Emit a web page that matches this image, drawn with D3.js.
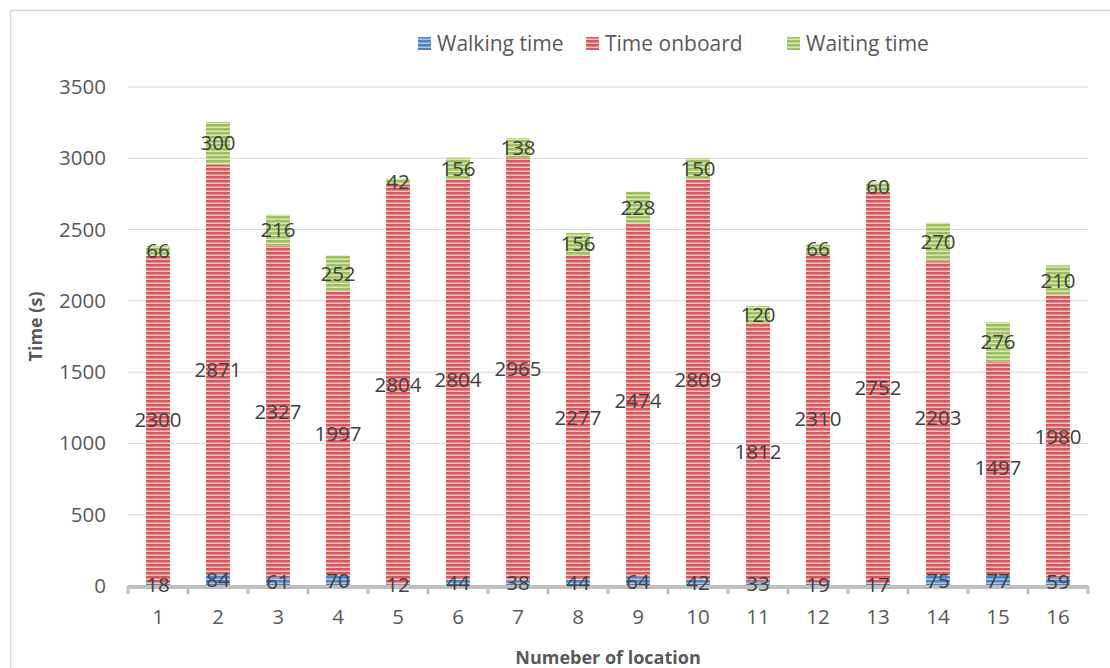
<!DOCTYPE html>
<html lang="en">
<head>
    <meta charset="UTF-8">
    <title>Time per location</title>
    <script src="https://cdnjs.cloudflare.com/ajax/libs/d3/7.8.5/d3.min.js"></script>
    <style>
        body { margin: 0; background: white; }
        text { font-family: 'Open Sans', sans-serif; fill: #595959; }
    </style>
</head>
<body>
<script>
    const width = 1110;
    const height = 668;

    const locations = ["1","2","3","4","5","6","7","8","9","10","11","12","13","14","15","16"];
    const seriesNames = ["Walking time", "Time onboard", "Waiting time"];
    const walking = [18, 84, 61, 70, 12, 44, 38, 44, 64, 42, 33, 19, 17, 75, 77, 59];
    const onboard = [2300, 2871, 2327, 1997, 2804, 2804, 2965, 2277, 2474, 2809, 1812, 2310, 2752, 2203, 1497, 1980];
    const waiting = [66, 300, 216, 252, 42, 156, 138, 156, 228, 150, 120, 66, 60, 270, 276, 210];
    const yTicks = [0, 500, 1000, 1500, 2000, 2500, 3000, 3500];

    const colors = {
        "Walking time": ["#4f81c7", "#a9c4e8"],
        "Time onboard": ["#d9575c", "#f4c2c3"],
        "Waiting time": ["#9dc05c", "#d6e7b3"]
    };

    const rows = locations.map((loc, i) => ({
        loc: loc,
        "Walking time": walking[i],
        "Time onboard": onboard[i],
        "Waiting time": waiting[i]
    }));

    const margin = {left: 128, right: 22, top: 87, bottom: 82};

    const x = d3.scaleBand().domain(locations)
        .range([margin.left, width - margin.right]).paddingInner(0.6).paddingOuter(0.3);
    const y = d3.scaleLinear().domain([0, 3500]).range([height - margin.bottom, margin.top]);

    const svg = d3.select("body").append("svg").attr("width", width).attr("height", height);

    // striped fills
    const defs = svg.append("defs");
    seriesNames.forEach((s, i) => {
        const p = defs.append("pattern").attr("id", "pat" + i)
            .attr("patternUnits", "userSpaceOnUse").attr("width", 8).attr("height", 4);
        p.append("rect").attr("width", 8).attr("height", 4).attr("fill", colors[s][0]);
        p.append("rect").attr("y", 2.5).attr("width", 8).attr("height", 1.5).attr("fill", colors[s][1]);
    });

    // chart frame
    svg.append("rect").attr("x", 10.5).attr("y", 10.5).attr("width", 1120).attr("height", 700)
        .attr("fill", "none").attr("stroke", "#d9d9d9").attr("stroke-width", 1.5);

    // gridlines
    svg.append("g").selectAll("line").data(yTicks.filter(d => d > 0)).join("line")
        .attr("x1", margin.left).attr("x2", width - margin.right)
        .attr("y1", d => y(d)).attr("y2", d => y(d))
        .attr("stroke", "#d9d9d9").attr("stroke-width", 1);

    // y axis labels
    const yAxis = svg.append("g").attr("transform", `translate(${margin.left - 22},0)`)
        .call(d3.axisLeft(y).tickValues(yTicks).tickFormat(d3.format("d")).tickSize(0).tickPadding(0));
    yAxis.select(".domain").remove();
    yAxis.selectAll("text").style("font-size", "20.5px").attr("fill", "#595959")
        .style("font-family", "'Open Sans', sans-serif");

    const stack = d3.stack().keys(seriesNames)(rows);

    const layers = svg.append("g").selectAll("g").data(stack).join("g")
        .attr("fill", (d, i) => `url(#pat${i})`);

    layers.selectAll("rect").data(d => d).join("rect")
        .attr("x", d => x(d.data.loc))
        .attr("width", x.bandwidth())
        .attr("y", d => y(d[1]))
        .attr("height", d => y(d[0]) - y(d[1]));

    // x axis line with ticks between categories
    const step = x.step();
    const boundaries = d3.range(locations.length + 1).map(i => margin.left + i * step);
    svg.append("line")
        .attr("x1", margin.left).attr("x2", width - margin.right)
        .attr("y1", y(0) + 1).attr("y2", y(0) + 1)
        .attr("stroke", "#bfbfbf").attr("stroke-width", 4);
    svg.append("g").selectAll("line").data(boundaries).join("line")
        .attr("x1", d => d).attr("x2", d => d)
        .attr("y1", y(0)).attr("y2", y(0) + 8)
        .attr("stroke", "#bfbfbf").attr("stroke-width", 3);

    svg.append("g").selectAll("text").data(locations).join("text")
        .attr("x", d => x(d) + x.bandwidth() / 2)
        .attr("y", y(0) + 38)
        .attr("text-anchor", "middle")
        .style("font-size", "20.5px")
        .text(d => d);

    // data labels
    const labels = svg.append("g");
    stack.forEach(layer => {
        labels.selectAll(null).data(layer).join("text")
            .attr("x", d => x(d.data.loc) + x.bandwidth() / 2)
            .attr("y", d => (y(d[0]) + y(d[1])) / 2)
            .attr("dy", "0.35em")
            .attr("text-anchor", "middle")
            .style("font-size", "20.5px")
            .style("fill", "#404040")
            .text(d => d[1] - d[0]);
    });

    // axis titles
    svg.append("text")
        .attr("transform", `translate(42,${(y(0) + y(3500)) / 2 - 10}) rotate(-90)`)
        .attr("text-anchor", "middle")
        .style("font-size", "18px").style("font-weight", "bold")
        .text("Time (s)");
    svg.append("text")
        .attr("x", (margin.left + width - margin.right) / 2)
        .attr("y", 664)
        .attr("text-anchor", "middle")
        .style("font-size", "18px").style("font-weight", "bold")
        .text("Numeber of location");

    // legend
    const legendX = [418, 586, 787];
    const legend = svg.append("g").selectAll("g").data(seriesNames).join("g")
        .attr("transform", (d, i) => `translate(${legendX[i]},44)`);
    legend.append("rect").attr("x", 0).attr("y", -7).attr("width", 13).attr("height", 13)
        .attr("fill", (d, i) => `url(#pat${i})`);
    legend.append("text").attr("x", 19).attr("dy", "0.35em")
        .style("font-size", "21px")
        .text(d => d);
</script>
</body>
</html>
